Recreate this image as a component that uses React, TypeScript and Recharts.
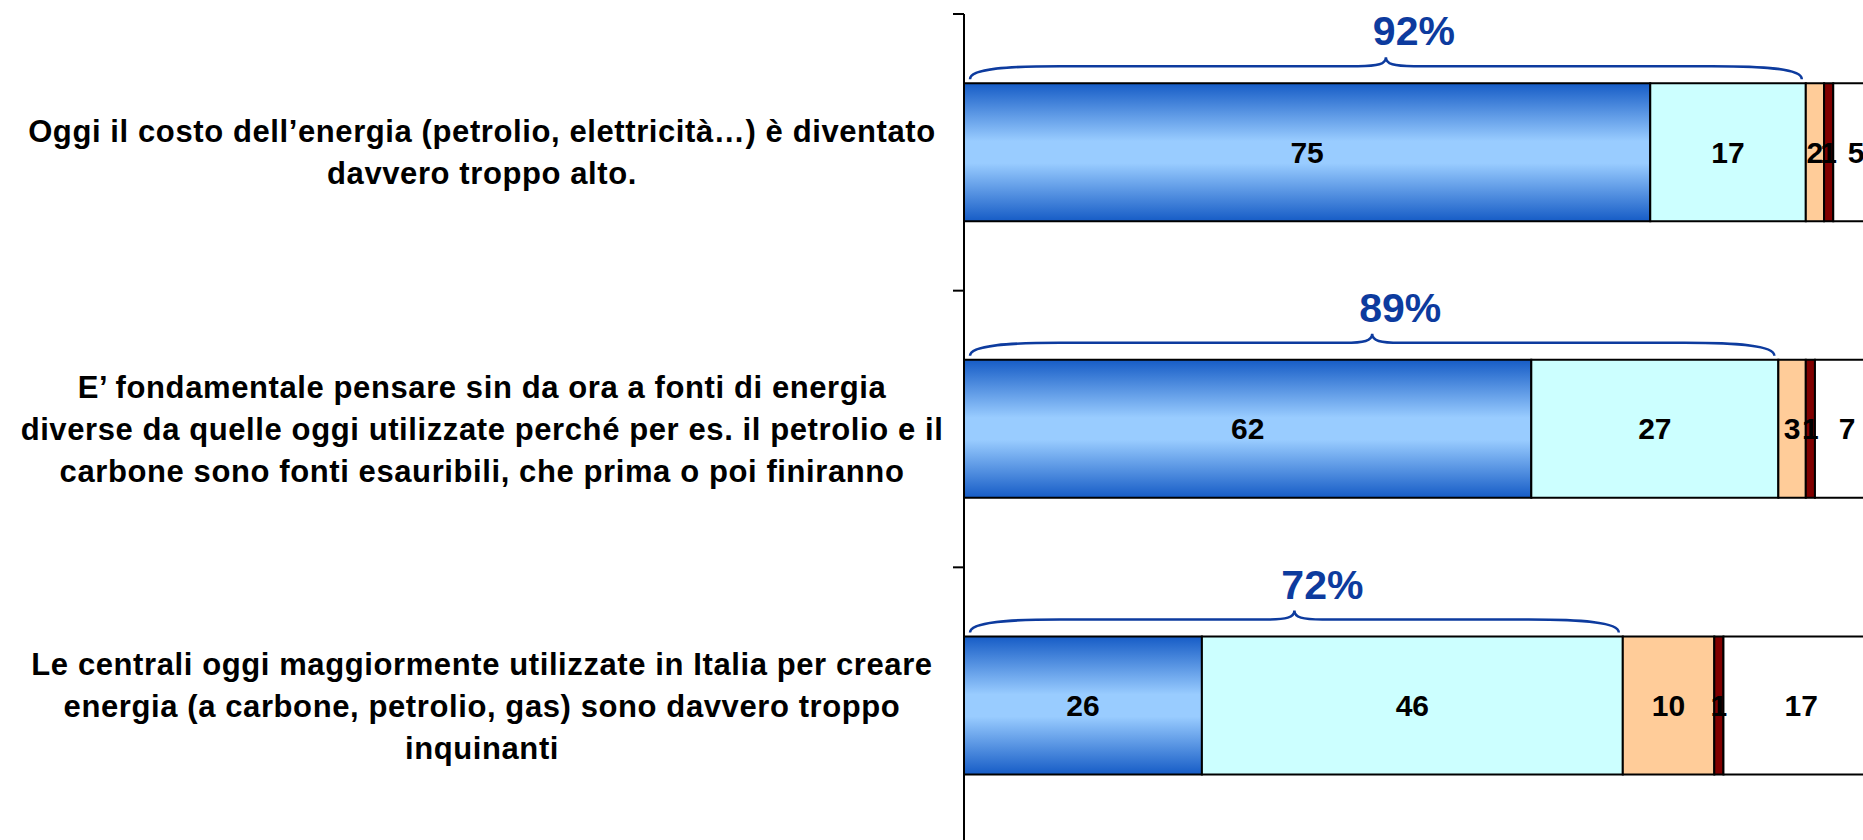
import { BarChart, Bar, XAxis, YAxis, LabelList } from 'recharts';

// domande (categorie), già spezzate su più righe come nell'originale
const categories = [
  "Oggi il costo dell’energia (petrolio, elettricità…) è diventato\ndavvero troppo alto.",
  "E’ fondamentale pensare sin da ora a fonti di energia\ndiverse da quelle oggi utilizzate perché per es. il petrolio e il\ncarbone sono fonti esauribili, che prima o poi finiranno",
  "Le centrali oggi maggiormente utilizzate in Italia per creare\nenergia (a carbone, petrolio, gas) sono davvero troppo\ninquinanti",
];

const moltoAccordo = [75, 62, 26];
const abbastanzaAccordo = [17, 27, 46];
const pocoAccordo = [2, 3, 10];
const perNienteAccordo = [1, 1, 1];
const nonSa = [5, 7, 17];

const data = categories.map((name, i) => ({
  name,
  molto: moltoAccordo[i],
  abbastanza: abbastanzaAccordo[i],
  poco: pocoAccordo[i],
  perNiente: perNienteAccordo[i],
  nonSa: nonSa[i],
}));

const FONT = '"Liberation Sans", Arial, sans-serif';
const BRACE_BLUE = '#0d3b9e';

function CategoryTick(props: any) {
  const { x, y, payload, index } = props;
  const lines = String(payload.value).split('\n');
  const half = payload.offset ?? 0;
  const lh = 42;
  const cx = x - 482;
  const y0 = y - ((lines.length - 1) * lh) / 2;
  return (
    <g>
      <line x1={x - 11} x2={x} y1={y - half} y2={y - half} stroke="#000" strokeWidth={2} />
      {index === categories.length - 1 && (
        <line x1={x - 11} x2={x} y1={y + half} y2={y + half} stroke="#000" strokeWidth={2} />
      )}
      <text textAnchor="middle" fontFamily={FONT} fontWeight="bold" fontSize={31} letterSpacing={0.6} fill="#000">
        {lines.map((l, i) => (
          <tspan key={i} x={cx} y={y0 + i * lh} dy="0.35em">
            {l}
          </tspan>
        ))}
      </text>
    </g>
  );
}

// graffa + percentuale (molto + abbastanza) sopra le prime due barre
function BraceLabel(props: any) {
  const vb = props.viewBox ?? props;
  const x = vb.x ?? props.x;
  const y = vb.y ?? props.y;
  const width = vb.width ?? props.width;
  const index = props.index ?? 0;
  const a = moltoAccordo[index];
  const b = abbastanzaAccordo[index];
  const left = x - (width * a) / b;
  const right = x + width;
  const x0 = left + 6;
  const x1 = right - 4;
  const xm = (x0 + x1) / 2;
  const yEnd = y - 4;
  const yH = y - 17;
  const yPk = y - 26;
  const d = [
    `M ${x0} ${yEnd}`,
    `C ${x0} ${yH + 2}, ${x0 + 40} ${yH}, ${x0 + 90} ${yH}`,
    `L ${xm - 28} ${yH}`,
    `C ${xm - 8} ${yH}, ${xm} ${yH - 2}, ${xm} ${yPk}`,
    `C ${xm} ${yH - 2}, ${xm + 8} ${yH}, ${xm + 28} ${yH}`,
    `L ${x1 - 90} ${yH}`,
    `C ${x1 - 40} ${yH}, ${x1} ${yH + 2}, ${x1} ${yEnd}`,
  ].join(' ');
  return (
    <g>
      <path d={d} fill="none" stroke={BRACE_BLUE} strokeWidth={2.5} />
      <text x={xm + 28} y={y - 38} textAnchor="middle" fontFamily={FONT} fontWeight="bold" fontSize={41} fill={BRACE_BLUE}>
        {`${a + b}%`}
      </text>
    </g>
  );
}

const valueLabel = { position: 'center' as const, fill: '#000', fontSize: 30, fontWeight: 'bold', fontFamily: FONT };

export default function App() {
  return (
    <div style={{ position: 'absolute', left: 0, top: 0, width: 1863, height: 840, overflow: 'hidden', background: '#fff' }}>
      <BarChart
        width={1880}
        height={850}
        data={data}
        layout="vertical"
        margin={{ top: 14, right: 1, left: 0, bottom: 6 }}
        barCategoryGap="25%"
      >
        <defs>
          <linearGradient id="bluGrad" x1="0" y1="0" x2="0" y2="1">
            <stop offset="0%" stopColor="#165cc6" />
            <stop offset="42%" stopColor="#99ccff" />
            <stop offset="58%" stopColor="#99ccff" />
            <stop offset="100%" stopColor="#165cc6" />
          </linearGradient>
        </defs>
        <XAxis type="number" domain={[0, 100]} hide />
        <YAxis
          type="category"
          dataKey="name"
          width={964}
          interval={0}
          tickSize={0}
          tickMargin={0}
          tickLine={false}
          axisLine={{ stroke: '#000', strokeWidth: 2 }}
          tick={<CategoryTick />}
        />
        <Bar dataKey="molto" stackId="s" fill="url(#bluGrad)" stroke="#000" strokeWidth={2} isAnimationActive={false}>
          <LabelList dataKey="molto" {...valueLabel} />
        </Bar>
        <Bar dataKey="abbastanza" stackId="s" fill="#ccffff" stroke="#000" strokeWidth={2} isAnimationActive={false}>
          <LabelList dataKey="abbastanza" {...valueLabel} />
          <LabelList dataKey="abbastanza" content={<BraceLabel />} />
        </Bar>
        <Bar dataKey="poco" stackId="s" fill="#ffcc99" stroke="#000" strokeWidth={2} isAnimationActive={false}>
          <LabelList dataKey="poco" {...valueLabel} />
        </Bar>
        <Bar dataKey="perNiente" stackId="s" fill="#800000" stroke="#000" strokeWidth={2} isAnimationActive={false}>
          <LabelList dataKey="perNiente" {...valueLabel} />
        </Bar>
        <Bar dataKey="nonSa" stackId="s" fill="#ffffff" stroke="#000" strokeWidth={2} isAnimationActive={false}>
          <LabelList dataKey="nonSa" {...valueLabel} />
        </Bar>
      </BarChart>
    </div>
  );
}
